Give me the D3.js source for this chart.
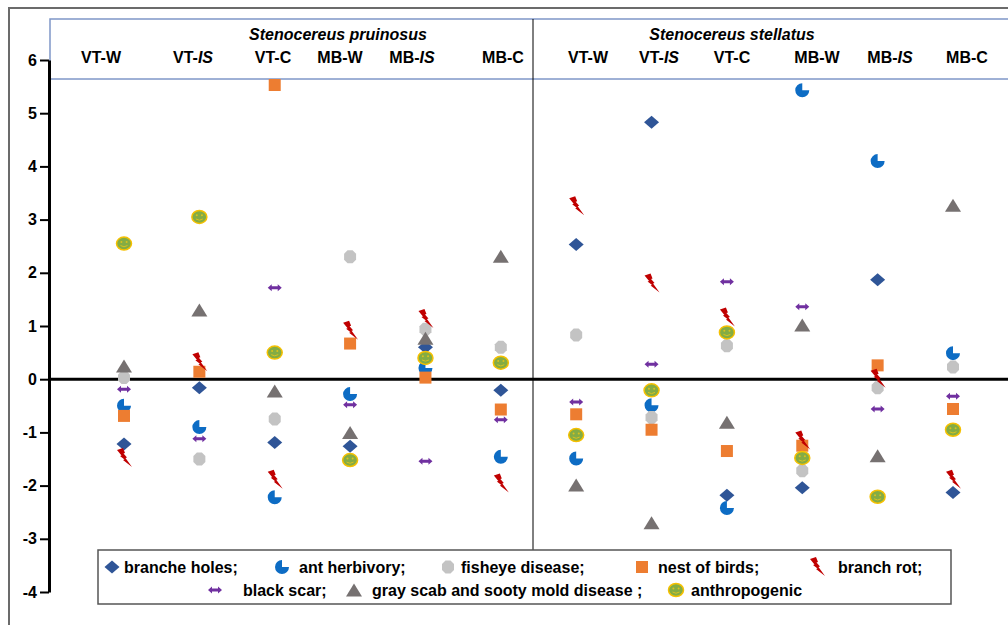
<!DOCTYPE html>
<html>
<head>
<meta charset="utf-8">
<script src="https://cdn.jsdelivr.net/npm/d3@7"></script>
<style>
  body { margin: 0; background: #fff; }
  svg text { font-family: "Liberation Sans", Arial, sans-serif; font-weight: bold; fill: #000; }
</style>
</head>
<body>
<div class="chart"></div>
<script>
// categories
const species = ["Stenocereus pruinosus", "Stenocereus stellatus"];
const sites = ["VT-W", "VT-IS", "VT-C", "MB-W", "MB-IS", "MB-C"];
const yTicks = [-4, -3, -2, -1, 0, 1, 2, 3, 4, 5, 6];

// values, 6 sites of pruinosus then 6 sites of stellatus
const brancheHoles = [-1.22, -0.16, -1.19, -1.26, 0.60, -0.21, 2.53, 4.83, -2.18, -2.04, 1.87, -2.13];
const antHerbivory = [-0.50, -0.90, -2.22, -0.28, 0.21, -1.46, -1.49, -0.49, -2.42, 5.43, 4.10, 0.49];
const fisheyeDisease = [0.03, -1.50, -0.75, 2.30, 0.94, 0.60, 0.83, -0.72, 0.63, -1.72, -0.16, 0.23];
const nestOfBirds = [-0.69, 0.14, 5.53, 0.67, 0.03, -0.57, -0.66, -0.95, -1.35, -1.25, 0.26, -0.56];
const branchRot = [-1.48, 0.32, -1.89, 0.91, 1.13, -1.96, 3.25, 1.80, 1.16, -1.15, 0.01, -1.89];
const blackScar = [-0.19, -1.12, 1.72, -0.48, -1.54, -0.76, -0.43, 0.28, 1.83, 1.36, -0.56, -0.32];
const grayScab = [0.25, 1.30, -0.22, -1.00, 0.77, 2.31, -1.99, -2.70, -0.81, 1.02, -1.44, 3.27];
const anthropogenic = [2.55, 3.05, 0.50, -1.52, 0.40, 0.31, -1.05, -0.21, 0.88, -1.48, -2.21, -0.95];

const categories = species.flatMap(s => sites.map(t => s + "|" + t));

const series = [
  {name: "branche holes;", values: brancheHoles, shape: "diamond"},
  {name: "ant herbivory;", values: antHerbivory, shape: "pie"},
  {name: "fisheye disease;", values: fisheyeDisease, shape: "octagon"},
  {name: "nest of birds;", values: nestOfBirds, shape: "square"},
  {name: "branch rot;", values: branchRot, shape: "bolt"},
  {name: "black scar;", values: blackScar, shape: "arrow"},
  {name: "gray scab and sooty mold disease ;", values: grayScab, shape: "triangle"},
  {name: "anthropogenic", values: anthropogenic, shape: "smiley"}
];

const W = 1008, H = 625;

const svg = d3.select(".chart").append("svg")
    .attr("width", W)
    .attr("height", H)
    .attr("viewBox", [0, 0, W, H]);

const x = d3.scalePoint().domain(categories).range([124, 953]);
const y = d3.scaleLinear().domain([-4, 6]).range([592, 60]);

// outer frame
svg.append("rect")
    .attr("x", 9).attr("y", 8)
    .attr("width", W).attr("height", H)
    .attr("fill", "none")
    .attr("stroke", "#6b6b6b")
    .attr("stroke-width", 2);

// header box
svg.append("rect")
    .attr("x", 50).attr("y", 19)
    .attr("width", W).attr("height", 60)
    .attr("fill", "none")
    .attr("stroke", "#7f97c8")
    .attr("stroke-width", 1.5);

// divider between species
svg.append("line")
    .attr("x1", 533).attr("x2", 533)
    .attr("y1", 19).attr("y2", 550)
    .attr("stroke", "#000")
    .attr("stroke-width", 1);

const speciesX = [338, 732];
svg.selectAll(".species")
    .data(species)
    .enter().append("text")
    .attr("class", "species")
    .attr("x", (d, i) => speciesX[i])
    .attr("y", 40)
    .attr("text-anchor", "middle")
    .style("font-size", "16px")
    .style("font-style", "italic")
    .text(d => d);

const headerX = [101, 193, 273, 340, 412, 503, 588, 659, 732, 817, 890, 967];
const heads = svg.selectAll(".site")
    .data(categories)
    .enter().append("text")
    .attr("class", "site")
    .attr("x", (d, i) => headerX[i])
    .attr("y", 63)
    .attr("text-anchor", "middle")
    .style("font-size", "16px");
heads.each(function(d) {
    const site = d.split("|")[1];
    const [a, b] = site.split("-");
    const t = d3.select(this);
    t.append("tspan").text(a + "-");
    t.append("tspan").style("font-style", b === "IS" ? "italic" : "normal").text(b);
});

// y axis
const yAxis = svg.append("g")
    .attr("transform", "translate(49,0)")
    .call(d3.axisLeft(y).tickValues(yTicks).tickSize(9).tickPadding(3).tickSizeOuter(0)
        .tickFormat(d => String(d)));
yAxis.select(".domain").attr("stroke-width", 3);
yAxis.selectAll(".tick line").attr("stroke-width", 2);
yAxis.selectAll(".tick text")
    .style("font-size", "16px")
    .style("font-family", "'Liberation Sans', Arial, sans-serif")
    .style("font-weight", "bold")
    .attr("fill", "#000");

// zero line
svg.append("line")
    .attr("x1", 49).attr("x2", W)
    .attr("y1", y(0)).attr("y2", y(0))
    .attr("stroke", "#000")
    .attr("stroke-width", 3);

// marker drawing
const pieArc = d3.arc().innerRadius(0).outerRadius(7).startAngle(Math.PI / 2).endAngle(2 * Math.PI);

function drawMarker(g, shape) {
    if (shape === "diamond") {
        g.append("path").attr("d", "M0,-6.5L7.5,0L0,6.5L-7.5,0Z").attr("fill", "#2f5597");
    } else if (shape === "pie") {
        g.append("path").attr("d", pieArc()).attr("fill", "#0d6cc4");
    } else if (shape === "octagon") {
        g.append("path").attr("d", "M-2.5,-6.5L2.5,-6.5L6,-3L6,3L2.5,6.5L-2.5,6.5L-6,3L-6,-3Z").attr("fill", "#c3c3c3");
    } else if (shape === "square") {
        g.append("rect").attr("x", -6).attr("y", -6).attr("width", 12).attr("height", 12).attr("fill", "#ed7d31");
    } else if (shape === "bolt") {
        g.append("path")
            .attr("d", "M-7,-8L-1,-10L1,-5L-0.5,-4.5L3,-0.5L1.5,0L8,9L-1,2L0.5,1.5L-4,-2L-2.5,-2.5Z")
            .attr("fill", "#c00000");
    } else if (shape === "arrow") {
        g.append("path")
            .attr("d", "M-7,0L-3,-3.5L-3,-1.5L3,-1.5L3,-3.5L7,0L3,3.5L3,1.5L-3,1.5L-3,3.5Z")
            .attr("fill", "#7030a0");
    } else if (shape === "triangle") {
        g.append("path").attr("d", "M0,-6.5L8,6.5L-8,6.5Z").attr("fill", "#767171");
    } else if (shape === "smiley") {
        g.append("ellipse").attr("rx", 7.5).attr("ry", 6.5)
            .attr("fill", "#84ac44").attr("stroke", "#f5c000").attr("stroke-width", 1.5);
        g.append("circle").attr("cx", -2.6).attr("cy", -1.6).attr("r", 1).attr("fill", "#d9c21e");
        g.append("circle").attr("cx", 2.6).attr("cy", -1.6).attr("r", 1).attr("fill", "#d9c21e");
        g.append("path").attr("d", "M-3.5,2Q0,4.5 3.5,2")
            .attr("fill", "none").attr("stroke", "#d9c21e").attr("stroke-width", 1);
    }
}

// points
series.forEach(s => {
    const pts = svg.append("g").attr("class", "series")
        .selectAll("g")
        .data(categories.map((c, i) => ({cat: c, v: s.values[i]})))
        .enter().append("g")
        .attr("transform", d => `translate(${x(d.cat)},${y(d.v)})`);
    pts.each(function() { drawMarker(d3.select(this), s.shape); });
});

// legend
svg.append("rect")
    .attr("x", 98).attr("y", 550)
    .attr("width", 853).attr("height", 54)
    .attr("fill", "#fff")
    .attr("stroke", "#555")
    .attr("stroke-width", 1.5);

const legendPos = [
    {ix: 112, tx: 124, y: 567}, {ix: 282, tx: 299, y: 567}, {ix: 448, tx: 461, y: 567},
    {ix: 642, tx: 658, y: 567}, {ix: 817, tx: 838, y: 567},
    {ix: 215, tx: 243, y: 590}, {ix: 354, tx: 372, y: 590}, {ix: 676, tx: 691, y: 590}
];

const legend = svg.selectAll(".legend")
    .data(series)
    .enter().append("g")
    .attr("class", "legend");

legend.each(function(d, i) {
    const p = legendPos[i];
    const icon = d3.select(this).append("g").attr("transform", `translate(${p.ix},${p.y})`);
    drawMarker(icon, d.shape);
    d3.select(this).append("text")
        .attr("x", p.tx)
        .attr("y", p.y + 5.5)
        .style("font-size", "16px")
        .text(d.name);
});
</script>
</body>
</html>
